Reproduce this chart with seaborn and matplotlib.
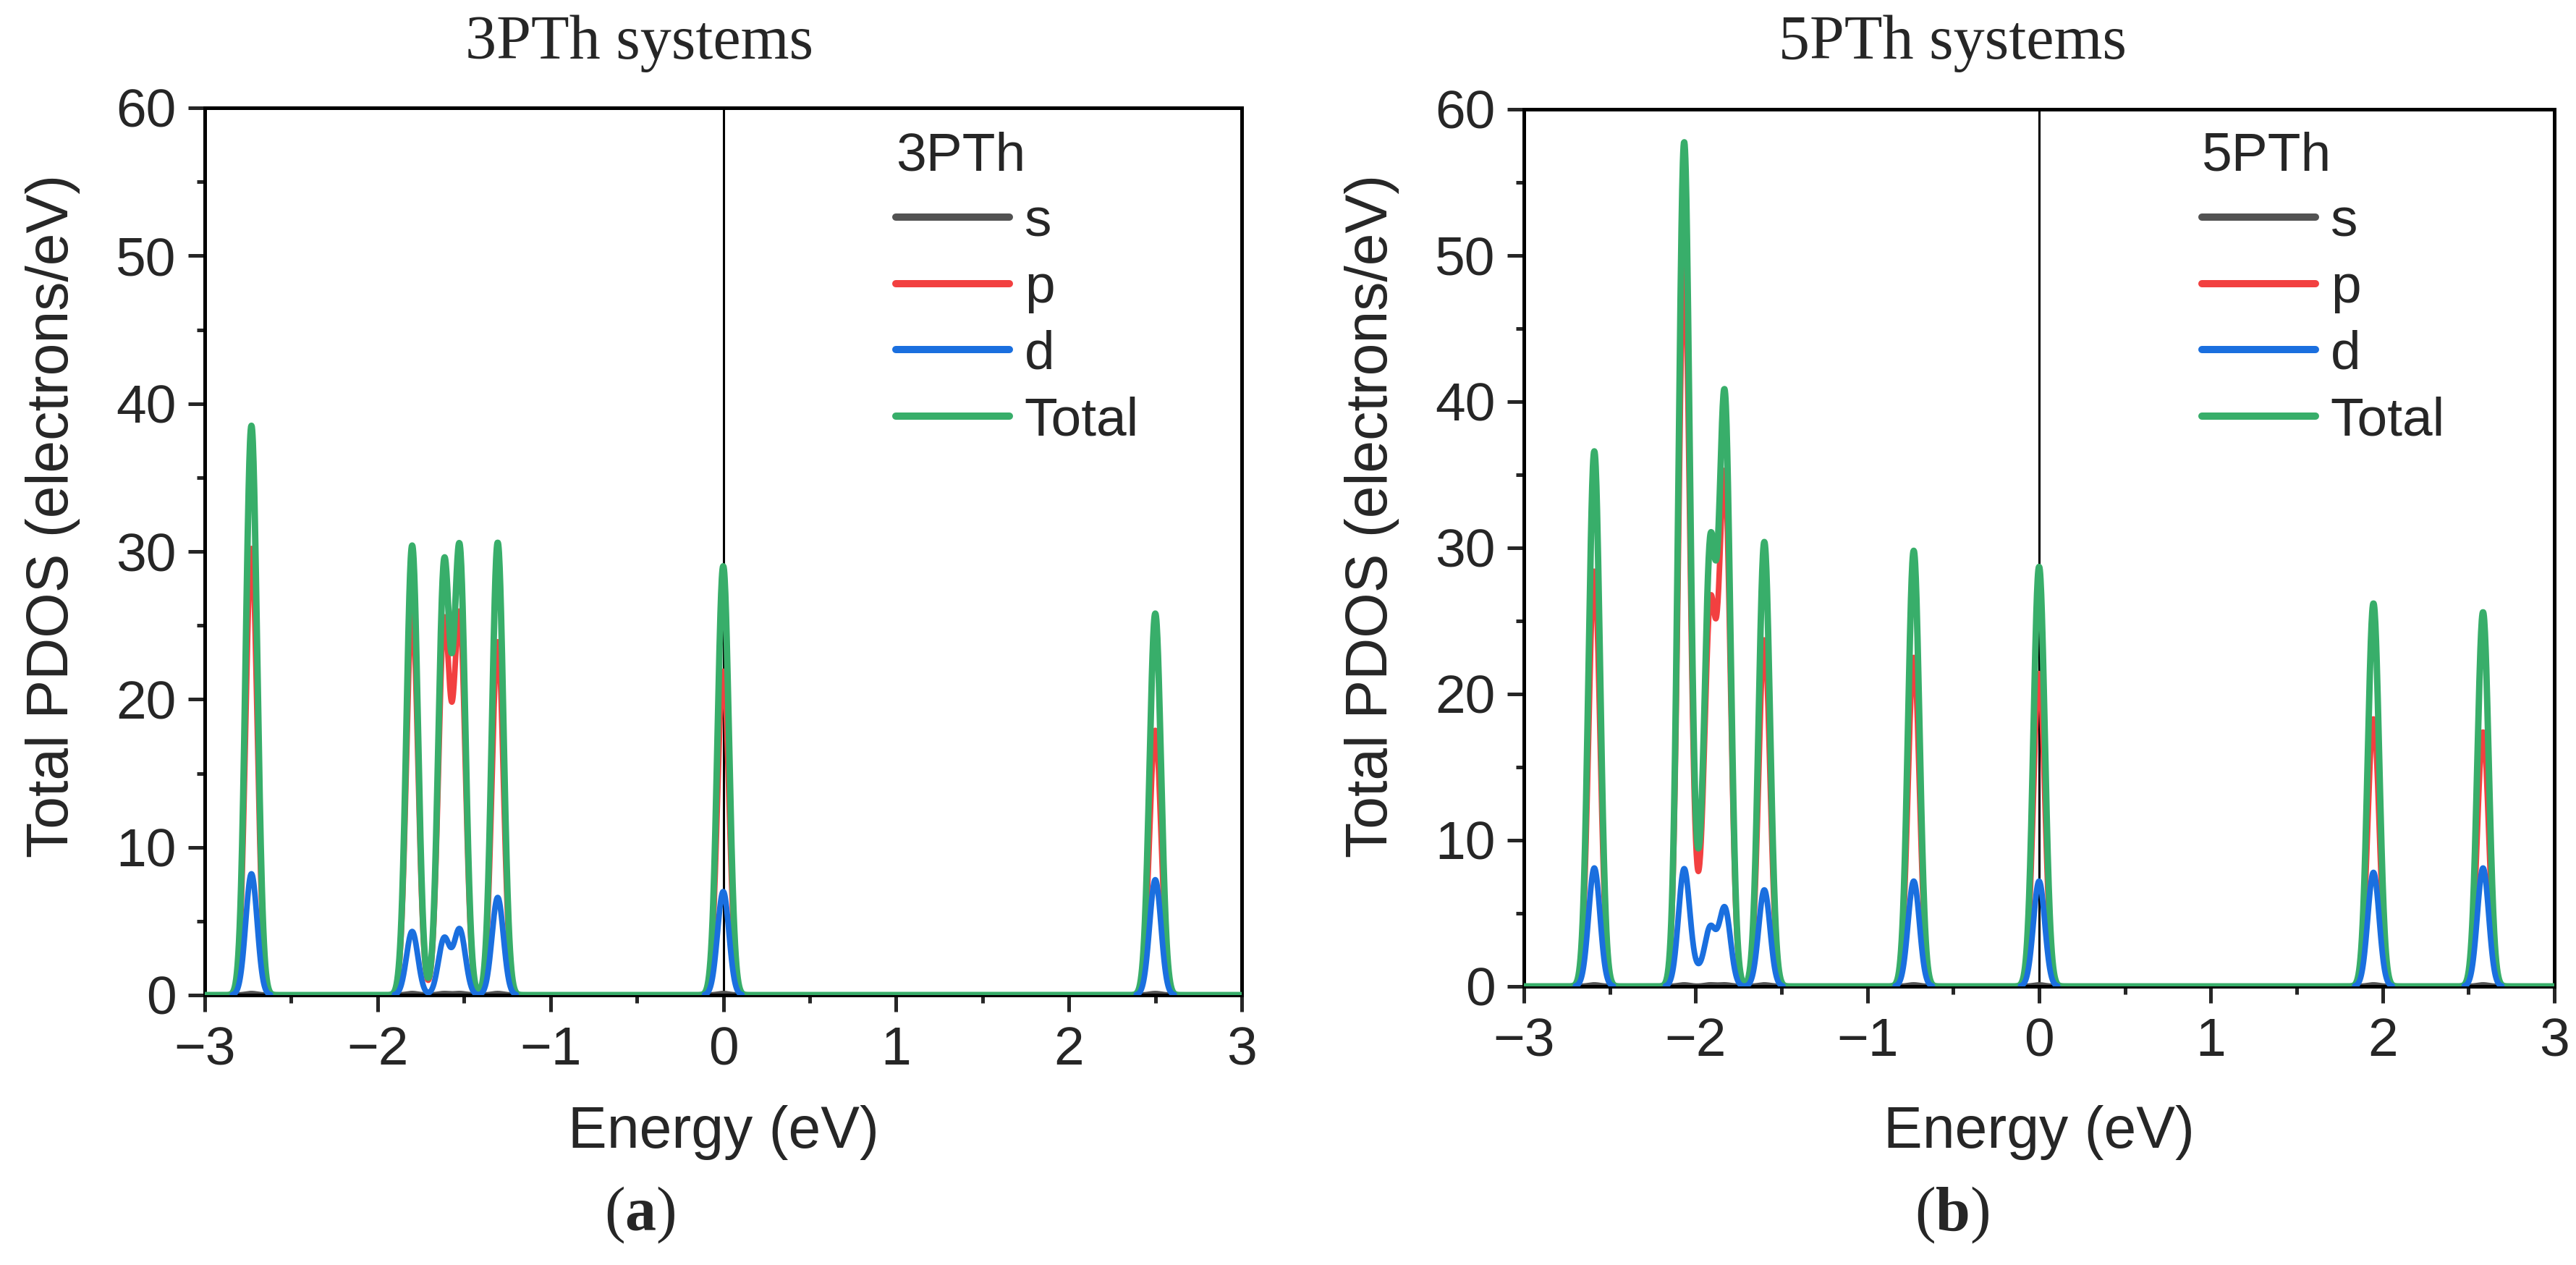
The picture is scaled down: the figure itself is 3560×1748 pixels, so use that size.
import numpy as np
import pandas as pd
import seaborn as sns
import matplotlib
matplotlib.use('Agg')
import matplotlib.pyplot as plt
from matplotlib.ticker import MultipleLocator
from matplotlib.transforms import blended_transform_factory

# --- data: state energies (eV) and peak heights (electrons/eV)
# 3PTh
e_3pth = [-2.73, -1.80, -1.615, -1.525, -1.305, 0.0, 2.50]
s_3pth = [0.1, 0.1, 0.1, 0.1, 0.1, 0.1, 0.1]
p_3pth = [30.2, 26.0, 24.9, 25.3, 23.9, 21.9, 17.9]
d_3pth = [8.2, 4.3, 3.8, 4.4, 6.6, 7.0, 7.8]

# 5PTh
e_5pth = [-2.59, -2.067, -1.99, -1.915, -1.83, -1.60, -0.73, 0.0, 1.947, 2.585]
s_5pth = [0.1, 0.1, 0.0, 0.1, 0.1, 0.1, 0.1, 0.1, 0.1, 0.1]
p_5pth = [28.4, 49.4, 3.0, 25.1, 34.3, 23.7, 22.5, 21.4, 18.3, 17.4]
d_5pth = [8.1, 8.0, 0.8, 3.9, 5.3, 6.6, 7.2, 7.2, 7.8, 8.1]

orbitals = ['s', 'p', 'd', 'Total']
colors = {'s': '#525252', 'p': '#f24040', 'd': '#1a6fdf', 'Total': '#38ae6a'}
widths = {'s': 5.6, 'p': 5.6, 'd': 5.6, 'Total': 6.4}

energy = np.linspace(-3, 3, 3001)
sigma = 0.033  # gaussian smearing of the states


def smear(centers, heights):
    out = np.zeros_like(energy)
    for c, h in zip(centers, heights):
        out += h * np.exp(-(energy - c) ** 2 / (2 * sigma ** 2))
    return out


def pdos_frame(centers, s, p, d):
    df = pd.DataFrame({'Energy': energy,
                       's': smear(centers, s),
                       'p': smear(centers, p),
                       'd': smear(centers, d)})
    df['Total'] = df['s'] + df['p'] + df['d']
    return df


df_3 = pdos_frame(e_3pth, s_3pth, p_3pth, d_3pth)
df_5 = pdos_frame(e_5pth, s_5pth, p_5pth, d_5pth)

sns.set_style('ticks')
plt.rcParams['font.family'] = ['Liberation Sans', 'DejaVu Sans']
plt.rcParams['mathtext.fontset'] = 'custom'
plt.rcParams['mathtext.rm'] = 'Liberation Serif'
plt.rcParams['mathtext.bf'] = 'Liberation Serif:bold'

W, H = 3560, 1748
fig = plt.figure(figsize=(W / 100, H / 100), dpi=100)

# axes boxes in pixels: left, right, top, bottom
boxes = [(283, 1716, 149, 1375), (2106, 3530, 151, 1363)]
panels = [('3PTh', df_3, 884, 'a', 1238), ('5PTh', df_5, 2698, 'b', 3043)]

for (l, r, t, b), (name, df, cx, tag, leg_x) in zip(boxes, panels):
    ax = fig.add_axes([l / W, 1 - b / H, (r - l) / W, (b - t) / H])
    ax.axvline(0, color='black', lw=2.2, zorder=1)

    for orb, z in [('s', 2), ('p', 3), ('Total', 4)]:
        sns.lineplot(x=df['Energy'], y=df[orb], color=colors[orb], lw=widths[orb],
                     label=orb, zorder=z, ax=ax, errorbar=None)

    # d sits on top of Total, but only where it rises off the baseline
    d_part = df[['Energy', 'd']].copy()
    above = d_part['d'] > 0.03
    d_part['seg'] = (above != above.shift()).cumsum()
    d_part = d_part[above]
    sns.lineplot(data=d_part, x='Energy', y='d', units='seg', estimator=None,
                 color=colors['d'], lw=widths['d'], zorder=5, ax=ax)
    ax.plot([], [], color=colors['d'], lw=widths['d'], label='d')

    ax.set_xlim(-3, 3)
    ax.set_ylim(0, 60)
    ax.xaxis.set_major_locator(MultipleLocator(1))
    ax.xaxis.set_minor_locator(MultipleLocator(0.5))
    ax.yaxis.set_major_locator(MultipleLocator(10))
    ax.yaxis.set_minor_locator(MultipleLocator(5))
    ax.tick_params(which='both', direction='out', width=3.6, top=False, right=False)
    ax.tick_params(which='major', length=16.5, labelsize=54)
    ax.tick_params(axis='x', which='major', pad=14)
    ax.tick_params(axis='y', which='major', pad=12)
    ax.tick_params(which='minor', length=8.2)
    for sp in ax.spines.values():
        sp.set_linewidth(3.6)
        sp.set_color('black')

    ax.set_xlabel('Energy (eV)', fontsize=58)
    ax.set_ylabel('Total PDOS (electrons/eV)', fontsize=58)
    ax.xaxis.set_label_coords(0.5, 1 - 1527 / H,
                              transform=blended_transform_factory(ax.transAxes, fig.transFigure))
    ax.yaxis.set_label_coords((l - 172) / W, 1 - 713 / H, transform=fig.transFigure)

    handles, labels = ax.get_legend_handles_labels()
    order = [labels.index(o) for o in orbitals]
    leg = ax.legend([handles[i] for i in order], orbitals, title=name,
                    loc='upper left',
                    bbox_to_anchor=((leg_x - l) / (r - l), (b - 181) / (b - t)),
                    frameon=False, fontsize=54, title_fontsize=54, alignment='left',
                    handlelength=2.09, handletextpad=0.28, labelspacing=0.30,
                    borderpad=0, borderaxespad=0)
    for ln in leg.get_lines():
        ln.set_linewidth(7.2)

    fig.text(cx / W, 1 - 81 / H, f'{name} systems', ha='center', va='baseline',
             fontsize=62, family='Liberation Serif')
    fig.text(cx / W, 1 - 1700 / H, r'($\mathbf{' + tag + r'}$)', ha='center', va='baseline',
             fontsize=62, family='Liberation Serif')

fig.savefig('out.png', dpi=100)
